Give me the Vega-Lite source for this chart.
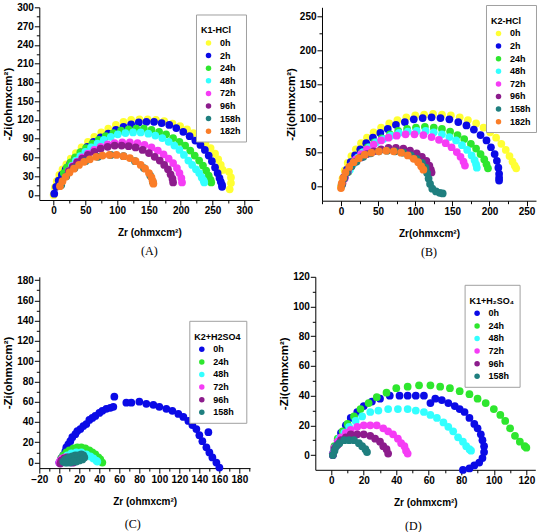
{
  "$schema": "https://vega.github.io/schema/vega-lite/v6.json",
  "padding": {"left": 2.3, "top": 2.3, "right": 0, "bottom": 0},
  "background": "white",
  "config": {
    "view": {"stroke": null},
    "axis": {
      "grid": false,
      "domainColor": "black",
      "tickColor": "black",
      "labelColor": "black",
      "titleColor": "black",
      "labelFont": "Liberation Sans Narrow, Liberation Sans, Arial, sans-serif",
      "labelFontWeight": "bold",
      "labelFontSize": 10,
      "labelPadding": 1,
      "labelOverlap": false,
      "labelFlush": false,
      "titleFont": "Liberation Sans Narrow, Liberation Sans, Arial, sans-serif",
      "titleFontWeight": "bold",
      "titleFontSize": 10
    },
    "axisX": {"titlePadding": 12},
    "axisY": {"titleFont": "Liberation Sans", "titleFontSize": 11.5, "titlePadding": 3},
    "legend": {
      "direction": "vertical",
      "labelFont": "Liberation Sans Narrow, Liberation Sans, Arial, sans-serif",
      "labelFontWeight": "bold",
      "labelFontSize": 9,
      "labelColor": "black",
      "titleFont": "Liberation Sans Narrow, Liberation Sans, Arial, sans-serif",
      "titleFontWeight": "bold",
      "titleFontSize": 9,
      "titleColor": "black",
      "titleLineHeight": 7,
      "titlePadding": 3,
      "symbolType": "circle",
      "symbolSize": 30,
      "symbolStrokeWidth": 0,
      "symbolOffset": 3,
      "labelOffset": 7,
      "rowPadding": 2.6,
      "padding": 5,
      "strokeColor": "#a0a0a0",
      "fillColor": "white"
    },
    "title": {"font": "Liberation Serif", "fontSize": 12, "fontWeight": "normal", "color": "black", "offset": 8}
  },
  "datasets": {
    "A": [
      {"s":"0h","x":0,"y":0},{"s":"0h","x":2,"y":12},{"s":"0h","x":5,"y":22},{"s":"0h","x":9,"y":32},{"s":"0h","x":14,"y":41},{"s":"0h","x":20,"y":49},{"s":"0h","x":27,"y":58},{"s":"0h","x":35,"y":67},{"s":"0h","x":44,"y":76},{"s":"0h","x":54,"y":85},{"s":"0h","x":64,"y":93},{"s":"0h","x":75,"y":100},{"s":"0h","x":86,"y":106},{"s":"0h","x":98,"y":112},{"s":"0h","x":110,"y":117},{"s":"0h","x":122,"y":120},{"s":"0h","x":135,"y":121},{"s":"0h","x":148,"y":121},{"s":"0h","x":161,"y":120},{"s":"0h","x":174,"y":118},{"s":"0h","x":187,"y":114},{"s":"0h","x":199,"y":110},{"s":"0h","x":210,"y":105},{"s":"0h","x":220,"y":99},{"s":"0h","x":230,"y":92},{"s":"0h","x":239,"y":84},{"s":"0h","x":247,"y":75},{"s":"0h","x":254,"y":66},{"s":"0h","x":259,"y":57},{"s":"0h","x":263,"y":48},{"s":"0h","x":266,"y":40},{"s":"0h","x":259,"y":34},{"s":"0h","x":276,"y":37},{"s":"0h","x":279,"y":28},{"s":"0h","x":279,"y":19},{"s":"0h","x":277,"y":9},
      {"s":" 2h","x":1,"y":2},{"s":" 2h","x":4,"y":13},{"s":" 2h","x":8,"y":23},{"s":" 2h","x":13,"y":32},{"s":" 2h","x":19,"y":41},{"s":" 2h","x":26,"y":50},{"s":" 2h","x":34,"y":59},{"s":" 2h","x":43,"y":68},{"s":" 2h","x":53,"y":77},{"s":" 2h","x":63,"y":85},{"s":" 2h","x":74,"y":92},{"s":" 2h","x":86,"y":98},{"s":" 2h","x":98,"y":104},{"s":" 2h","x":110,"y":109},{"s":" 2h","x":122,"y":113},{"s":" 2h","x":134,"y":116},{"s":" 2h","x":146,"y":117},{"s":" 2h","x":158,"y":117},{"s":" 2h","x":170,"y":115},{"s":" 2h","x":182,"y":112},{"s":" 2h","x":193,"y":107},{"s":" 2h","x":204,"y":101},{"s":" 2h","x":214,"y":94},{"s":" 2h","x":223,"y":87},{"s":" 2h","x":231,"y":80},{"s":" 2h","x":238,"y":72},{"s":" 2h","x":244,"y":63},{"s":" 2h","x":249,"y":54},{"s":" 2h","x":254,"y":44},{"s":" 2h","x":258,"y":35},{"s":" 2h","x":261,"y":27},{"s":" 2h","x":263,"y":21},{"s":" 2h","x":265,"y":16},{"s":" 2h","x":265,"y":13},
      {"s":"24h","x":16,"y":35},{"s":"24h","x":21,"y":44},{"s":"24h","x":27,"y":52},{"s":"24h","x":34,"y":60},{"s":"24h","x":42,"y":68},{"s":"24h","x":51,"y":75},{"s":"24h","x":61,"y":82},{"s":"24h","x":71,"y":88},{"s":"24h","x":82,"y":94},{"s":"24h","x":94,"y":99},{"s":"24h","x":106,"y":103},{"s":"24h","x":118,"y":105},{"s":"24h","x":130,"y":106},{"s":"24h","x":142,"y":106},{"s":"24h","x":154,"y":104},{"s":"24h","x":166,"y":101},{"s":"24h","x":177,"y":97},{"s":"24h","x":188,"y":91},{"s":"24h","x":198,"y":85},{"s":"24h","x":207,"y":79},{"s":"24h","x":215,"y":71},{"s":"24h","x":222,"y":63},{"s":"24h","x":229,"y":55},{"s":"24h","x":235,"y":47},{"s":"24h","x":240,"y":39},{"s":"24h","x":244,"y":31},{"s":"24h","x":247,"y":24},{"s":"24h","x":248,"y":20},
      {"s":"48h","x":24,"y":38},{"s":"48h","x":29,"y":47},{"s":"48h","x":35,"y":55},{"s":"48h","x":42,"y":62},{"s":"48h","x":50,"y":69},{"s":"48h","x":59,"y":76},{"s":"48h","x":69,"y":82},{"s":"48h","x":79,"y":88},{"s":"48h","x":90,"y":93},{"s":"48h","x":101,"y":97},{"s":"48h","x":113,"y":99},{"s":"48h","x":125,"y":100},{"s":"48h","x":137,"y":100},{"s":"48h","x":149,"y":98},{"s":"48h","x":160,"y":95},{"s":"48h","x":171,"y":91},{"s":"48h","x":181,"y":85},{"s":"48h","x":190,"y":79},{"s":"48h","x":198,"y":72},{"s":"48h","x":205,"y":64},{"s":"48h","x":212,"y":55},{"s":"48h","x":218,"y":48},{"s":"48h","x":224,"y":41},{"s":"48h","x":229,"y":35},{"s":"48h","x":233,"y":28},{"s":"48h","x":236,"y":23},{"s":"48h","x":237,"y":20},
      {"s":"72h","x":24,"y":38},{"s":"72h","x":30,"y":46},{"s":"72h","x":37,"y":53},{"s":"72h","x":45,"y":60},{"s":"72h","x":54,"y":66},{"s":"72h","x":64,"y":72},{"s":"72h","x":74,"y":77},{"s":"72h","x":85,"y":81},{"s":"72h","x":96,"y":83},{"s":"72h","x":108,"y":84},{"s":"72h","x":120,"y":84},{"s":"72h","x":132,"y":83},{"s":"72h","x":143,"y":80},{"s":"72h","x":154,"y":76},{"s":"72h","x":164,"y":71},{"s":"72h","x":173,"y":65},{"s":"72h","x":181,"y":58},{"s":"72h","x":188,"y":51},{"s":"72h","x":194,"y":43},{"s":"72h","x":198,"y":35},{"s":"72h","x":201,"y":27},{"s":"72h","x":202,"y":20},
      {"s":"96h","x":24,"y":38},{"s":"96h","x":30,"y":45},{"s":"96h","x":37,"y":52},{"s":"96h","x":45,"y":58},{"s":"96h","x":54,"y":64},{"s":"96h","x":64,"y":69},{"s":"96h","x":74,"y":74},{"s":"96h","x":85,"y":77},{"s":"96h","x":96,"y":79},{"s":"96h","x":107,"y":79},{"s":"96h","x":118,"y":78},{"s":"96h","x":129,"y":76},{"s":"96h","x":140,"y":72},{"s":"96h","x":150,"y":67},{"s":"96h","x":159,"y":61},{"s":"96h","x":167,"y":55},{"s":"96h","x":174,"y":48},{"s":"96h","x":180,"y":41},{"s":"96h","x":184,"y":33},{"s":"96h","x":187,"y":26},{"s":"96h","x":188,"y":20},
      {"s":"158h","x":12,"y":16},{"s":"158h","x":20,"y":30},{"s":"158h","x":33,"y":43},{"s":"158h","x":50,"y":54},{"s":"158h","x":70,"y":61},{"s":"158h","x":90,"y":64},{"s":"158h","x":110,"y":62},{"s":"158h","x":128,"y":54},{"s":"158h","x":142,"y":43},{"s":"158h","x":152,"y":31},{"s":"158h","x":156,"y":21},
      {"s":"182h","x":10,"y":14},{"s":"182h","x":14,"y":22},{"s":"182h","x":19,"y":29},{"s":"182h","x":25,"y":36},{"s":"182h","x":32,"y":42},{"s":"182h","x":40,"y":48},{"s":"182h","x":48,"y":53},{"s":"182h","x":57,"y":57},{"s":"182h","x":67,"y":61},{"s":"182h","x":77,"y":63},{"s":"182h","x":88,"y":64},{"s":"182h","x":99,"y":64},{"s":"182h","x":110,"y":62},{"s":"182h","x":120,"y":59},{"s":"182h","x":129,"y":54},{"s":"182h","x":137,"y":48},{"s":"182h","x":144,"y":42},{"s":"182h","x":150,"y":35},{"s":"182h","x":154,"y":28},{"s":"182h","x":156,"y":22},{"s":"182h","x":157,"y":18}
    ],
    "B": [
      {"s":"0h","x":0,"y":0},{"s":"0h","x":2,"y":12},{"s":"0h","x":5,"y":24},{"s":"0h","x":9,"y":35},{"s":"0h","x":14,"y":45},{"s":"0h","x":20,"y":55},{"s":"0h","x":27,"y":64},{"s":"0h","x":35,"y":72},{"s":"0h","x":44,"y":80},{"s":"0h","x":54,"y":87},{"s":"0h","x":65,"y":93},{"s":"0h","x":76,"y":98},{"s":"0h","x":88,"y":102},{"s":"0h","x":100,"y":105},{"s":"0h","x":112,"y":106},{"s":"0h","x":124,"y":107},{"s":"0h","x":136,"y":106},{"s":"0h","x":148,"y":105},{"s":"0h","x":160,"y":102},{"s":"0h","x":171,"y":98},{"s":"0h","x":182,"y":93},{"s":"0h","x":192,"y":87},{"s":"0h","x":201,"y":80},{"s":"0h","x":209,"y":72},{"s":"0h","x":216,"y":63},{"s":"0h","x":222,"y":54},{"s":"0h","x":227,"y":45},{"s":"0h","x":231,"y":37},{"s":"0h","x":234,"y":31},{"s":"0h","x":236,"y":27},
      {"s":"2h","x":1,"y":3},{"s":"2h","x":4,"y":14},{"s":"2h","x":8,"y":25},{"s":"2h","x":13,"y":36},{"s":"2h","x":19,"y":46},{"s":"2h","x":26,"y":55},{"s":"2h","x":34,"y":64},{"s":"2h","x":43,"y":72},{"s":"2h","x":53,"y":79},{"s":"2h","x":63,"y":85},{"s":"2h","x":74,"y":91},{"s":"2h","x":86,"y":95},{"s":"2h","x":98,"y":99},{"s":"2h","x":110,"y":101},{"s":"2h","x":122,"y":102},{"s":"2h","x":134,"y":101},{"s":"2h","x":146,"y":99},{"s":"2h","x":158,"y":95},{"s":"2h","x":169,"y":90},{"s":"2h","x":179,"y":84},{"s":"2h","x":188,"y":76},{"s":"2h","x":196,"y":68},{"s":"2h","x":202,"y":58},{"s":"2h","x":207,"y":48},{"s":"2h","x":210,"y":38},{"s":"2h","x":212,"y":28},{"s":"2h","x":213,"y":19},{"s":"2h","x":213,"y":13},{"s":"2h","x":213,"y":9},
      {"s":"24h","x":10,"y":22},{"s":"24h","x":15,"y":32},{"s":"24h","x":21,"y":41},{"s":"24h","x":28,"y":50},{"s":"24h","x":36,"y":58},{"s":"24h","x":45,"y":65},{"s":"24h","x":55,"y":71},{"s":"24h","x":66,"y":77},{"s":"24h","x":77,"y":82},{"s":"24h","x":89,"y":85},{"s":"24h","x":101,"y":87},{"s":"24h","x":113,"y":88},{"s":"24h","x":125,"y":87},{"s":"24h","x":136,"y":85},{"s":"24h","x":147,"y":81},{"s":"24h","x":157,"y":76},{"s":"24h","x":166,"y":70},{"s":"24h","x":175,"y":63},{"s":"24h","x":182,"y":56},{"s":"24h","x":188,"y":48},{"s":"24h","x":193,"y":40},{"s":"24h","x":196,"y":33},{"s":"24h","x":198,"y":27},
      {"s":"48h","x":12,"y":25},{"s":"48h","x":17,"y":34},{"s":"48h","x":23,"y":43},{"s":"48h","x":30,"y":51},{"s":"48h","x":38,"y":58},{"s":"48h","x":47,"y":65},{"s":"48h","x":57,"y":70},{"s":"48h","x":67,"y":75},{"s":"48h","x":78,"y":79},{"s":"48h","x":90,"y":81},{"s":"48h","x":102,"y":82},{"s":"48h","x":114,"y":82},{"s":"48h","x":125,"y":80},{"s":"48h","x":136,"y":77},{"s":"48h","x":146,"y":73},{"s":"48h","x":155,"y":68},{"s":"48h","x":163,"y":61},{"s":"48h","x":170,"y":54},{"s":"48h","x":176,"y":46},{"s":"48h","x":180,"y":39},{"s":"48h","x":182,"y":33},{"s":"48h","x":183,"y":28},
      {"s":"72h","x":5,"y":12},{"s":"72h","x":9,"y":22},{"s":"72h","x":14,"y":31},{"s":"72h","x":20,"y":40},{"s":"72h","x":27,"y":48},{"s":"72h","x":35,"y":55},{"s":"72h","x":44,"y":62},{"s":"72h","x":54,"y":68},{"s":"72h","x":64,"y":72},{"s":"72h","x":75,"y":75},{"s":"72h","x":87,"y":77},{"s":"72h","x":99,"y":77},{"s":"72h","x":111,"y":76},{"s":"72h","x":122,"y":73},{"s":"72h","x":132,"y":69},{"s":"72h","x":141,"y":64},{"s":"72h","x":149,"y":58},{"s":"72h","x":156,"y":51},{"s":"72h","x":161,"y":44},{"s":"72h","x":165,"y":37},{"s":"72h","x":167,"y":31},
      {"s":"96h","x":2,"y":5},{"s":"96h","x":5,"y":14},{"s":"96h","x":9,"y":22},{"s":"96h","x":14,"y":30},{"s":"96h","x":20,"y":37},{"s":"96h","x":27,"y":43},{"s":"96h","x":35,"y":48},{"s":"96h","x":44,"y":52},{"s":"96h","x":54,"y":55},{"s":"96h","x":64,"y":57},{"s":"96h","x":74,"y":57},{"s":"96h","x":84,"y":56},{"s":"96h","x":93,"y":53},{"s":"96h","x":102,"y":49},{"s":"96h","x":109,"y":44},{"s":"96h","x":115,"y":38},{"s":"96h","x":119,"y":31},{"s":"96h","x":121,"y":25},{"s":"96h","x":122,"y":21},
      {"s":"158h","x":1,"y":2},{"s":"158h","x":4,"y":12},{"s":"158h","x":8,"y":21},{"s":"158h","x":14,"y":30},{"s":"158h","x":21,"y":37},{"s":"158h","x":30,"y":44},{"s":"158h","x":40,"y":49},{"s":"158h","x":51,"y":52},{"s":"158h","x":62,"y":53},{"s":"158h","x":73,"y":52},{"s":"158h","x":84,"y":50},{"s":"158h","x":94,"y":46},{"s":"158h","x":102,"y":41},{"s":"158h","x":109,"y":35},{"s":"158h","x":114,"y":28},{"s":"158h","x":116,"y":20},{"s":"158h","x":118,"y":12},{"s":"158h","x":120,"y":4},{"s":"158h","x":123,"y":-3},{"s":"158h","x":128,"y":-7},{"s":"158h","x":133,"y":-9},{"s":"158h","x":137,"y":-10},
      {"s":"182h","x":0,"y":-2},{"s":"182h","x":1,"y":5},{"s":"182h","x":3,"y":13},{"s":"182h","x":6,"y":21},{"s":"182h","x":11,"y":29},{"s":"182h","x":17,"y":36},{"s":"182h","x":24,"y":42},{"s":"182h","x":32,"y":47},{"s":"182h","x":41,"y":50},{"s":"182h","x":51,"y":52},{"s":"182h","x":61,"y":53},{"s":"182h","x":71,"y":52},{"s":"182h","x":81,"y":50},{"s":"182h","x":90,"y":46},{"s":"182h","x":98,"y":41},{"s":"182h","x":104,"y":36},{"s":"182h","x":108,"y":30},{"s":"182h","x":111,"y":25}
    ],
    "C": [
      {"s":"0h","x":0,"y":0},{"s":"0h","x":2,"y":4},{"s":"0h","x":4,"y":7},{"s":"0h","x":6,"y":11},{"s":"0h","x":7,"y":15},{"s":"0h","x":9,"y":18},{"s":"0h","x":11,"y":21},{"s":"0h","x":13,"y":25},{"s":"0h","x":16,"y":28},{"s":"0h","x":18,"y":31},{"s":"0h","x":21,"y":33},{"s":"0h","x":24,"y":36},{"s":"0h","x":27,"y":38},{"s":"0h","x":30,"y":42},{"s":"0h","x":33,"y":44},{"s":"0h","x":36,"y":46},{"s":"0h","x":40,"y":49},{"s":"0h","x":43,"y":51},{"s":"0h","x":47,"y":53},{"s":"0h","x":51,"y":54},{"s":"0h","x":54,"y":55},{"s":"0h","x":55,"y":65},{"s":"0h","x":67,"y":59},{"s":"0h","x":72,"y":59},{"s":"0h","x":80,"y":60},{"s":"0h","x":87,"y":58},{"s":"0h","x":94,"y":57},{"s":"0h","x":100,"y":55},{"s":"0h","x":107,"y":53},{"s":"0h","x":113,"y":51},{"s":"0h","x":119,"y":48},{"s":"0h","x":124,"y":45},{"s":"0h","x":129,"y":41},{"s":"0h","x":133,"y":37},{"s":"0h","x":137,"y":33},{"s":"0h","x":140,"y":27},{"s":"0h","x":149,"y":30},{"s":"0h","x":143,"y":21},{"s":"0h","x":147,"y":15},{"s":"0h","x":150,"y":10},{"s":"0h","x":153,"y":5},{"s":"0h","x":157,"y":0},{"s":"0h","x":160,"y":-5},
      {"s":"24h","x":1,"y":1},{"s":"24h","x":2,"y":4},{"s":"24h","x":4,"y":7},{"s":"24h","x":7,"y":10},{"s":"24h","x":10,"y":12},{"s":"24h","x":14,"y":14},{"s":"24h","x":18,"y":15},{"s":"24h","x":22,"y":15},{"s":"24h","x":26,"y":14},{"s":"24h","x":30,"y":12},{"s":"24h","x":33,"y":10},{"s":"24h","x":36,"y":8},{"s":"24h","x":39,"y":5},{"s":"24h","x":41,"y":3},{"s":"24h","x":43,"y":0},
      {"s":"48h","x":2,"y":1},{"s":"48h","x":4,"y":4},{"s":"48h","x":8,"y":7},{"s":"48h","x":12,"y":9},{"s":"48h","x":17,"y":10},{"s":"48h","x":22,"y":10},{"s":"48h","x":27,"y":8},{"s":"48h","x":31,"y":6},{"s":"48h","x":34,"y":4},{"s":"48h","x":37,"y":2},{"s":"48h","x":38,"y":1},
      {"s":"72h","x":0,"y":0},{"s":"72h","x":1,"y":2},{"s":"72h","x":3,"y":4},{"s":"72h","x":6,"y":5},{"s":"72h","x":9,"y":4},{"s":"72h","x":11,"y":2},{"s":"72h","x":12,"y":0},
      {"s":"96h","x":1,"y":-1},{"s":"96h","x":2,"y":2},{"s":"96h","x":5,"y":4},{"s":"96h","x":8,"y":5},{"s":"96h","x":11,"y":4},{"s":"96h","x":13,"y":2},{"s":"96h","x":14,"y":0},
      {"s":"158h","x":4,"y":1},{"s":"158h","x":6,"y":3},{"s":"158h","x":8,"y":4},{"s":"158h","x":10,"y":5},{"s":"158h","x":13,"y":6},{"s":"158h","x":16,"y":7},{"s":"158h","x":19,"y":7},{"s":"158h","x":22,"y":8},{"s":"158h","x":24,"y":7},{"s":"158h","x":25,"y":5},{"s":"158h","x":23,"y":3},{"s":"158h","x":20,"y":2},{"s":"158h","x":17,"y":1},{"s":"158h","x":14,"y":1},{"s":"158h","x":11,"y":0},{"s":"158h","x":8,"y":0},{"s":"158h","x":6,"y":0}
    ],
    "D": [
      {"s":"0h","x":1,"y":0},{"s":"0h","x":2,"y":5},{"s":"0h","x":4,"y":10},{"s":"0h","x":6,"y":15},{"s":"0h","x":9,"y":20},{"s":"0h","x":12,"y":25},{"s":"0h","x":16,"y":29},{"s":"0h","x":20,"y":33},{"s":"0h","x":25,"y":36},{"s":"0h","x":30,"y":38},{"s":"0h","x":36,"y":40},{"s":"0h","x":42,"y":40},{"s":"0h","x":47,"y":40},{"s":"0h","x":52,"y":40},{"s":"0h","x":57,"y":40},{"s":"0h","x":61,"y":35},{"s":"0h","x":64,"y":38},{"s":"0h","x":68,"y":37},{"s":"0h","x":72,"y":35},{"s":"0h","x":76,"y":33},{"s":"0h","x":79,"y":31},{"s":"0h","x":82,"y":29},{"s":"0h","x":85,"y":25},{"s":"0h","x":88,"y":21},{"s":"0h","x":90,"y":18},{"s":"0h","x":92,"y":14},{"s":"0h","x":93,"y":10},{"s":"0h","x":94,"y":6},{"s":"0h","x":94,"y":2},{"s":"0h","x":93,"y":-2},{"s":"0h","x":91,"y":-5},{"s":"0h","x":88,"y":-7},{"s":"0h","x":85,"y":-9},{"s":"0h","x":81,"y":-10},
      {"s":"24h","x":1,"y":1},{"s":"24h","x":2,"y":6},{"s":"24h","x":4,"y":11},{"s":"24h","x":7,"y":16},{"s":"24h","x":10,"y":21},{"s":"24h","x":14,"y":26},{"s":"24h","x":18,"y":31},{"s":"24h","x":23,"y":35},{"s":"24h","x":28,"y":39},{"s":"24h","x":34,"y":42},{"s":"24h","x":40,"y":45},{"s":"24h","x":47,"y":46},{"s":"24h","x":54,"y":47},{"s":"24h","x":61,"y":47},{"s":"24h","x":67,"y":46},{"s":"24h","x":73,"y":45},{"s":"24h","x":79,"y":43},{"s":"24h","x":85,"y":41},{"s":"24h","x":90,"y":38},{"s":"24h","x":95,"y":35},{"s":"24h","x":100,"y":31},{"s":"24h","x":104,"y":27},{"s":"24h","x":107,"y":23},{"s":"24h","x":110,"y":18},{"s":"24h","x":113,"y":13},{"s":"24h","x":116,"y":9},{"s":"24h","x":119,"y":6},{"s":"24h","x":120,"y":5},
      {"s":"48h","x":1,"y":1},{"s":"48h","x":3,"y":6},{"s":"48h","x":5,"y":11},{"s":"48h","x":8,"y":15},{"s":"48h","x":11,"y":19},{"s":"48h","x":15,"y":23},{"s":"48h","x":19,"y":26},{"s":"48h","x":24,"y":29},{"s":"48h","x":29,"y":30},{"s":"48h","x":35,"y":31},{"s":"48h","x":41,"y":31},{"s":"48h","x":47,"y":31},{"s":"48h","x":52,"y":30},{"s":"48h","x":57,"y":29},{"s":"48h","x":61,"y":27},{"s":"48h","x":65,"y":25},{"s":"48h","x":69,"y":22},{"s":"48h","x":72,"y":19},{"s":"48h","x":75,"y":16},{"s":"48h","x":78,"y":12},{"s":"48h","x":81,"y":9},{"s":"48h","x":83,"y":6},{"s":"48h","x":85,"y":4},{"s":"48h","x":86,"y":3},
      {"s":"72h","x":1,"y":1},{"s":"72h","x":2,"y":5},{"s":"72h","x":4,"y":9},{"s":"72h","x":6,"y":12},{"s":"72h","x":9,"y":15},{"s":"72h","x":12,"y":17},{"s":"72h","x":16,"y":19},{"s":"72h","x":20,"y":20},{"s":"72h","x":24,"y":20},{"s":"72h","x":28,"y":20},{"s":"72h","x":32,"y":18},{"s":"72h","x":35,"y":16},{"s":"72h","x":38,"y":14},{"s":"72h","x":41,"y":11},{"s":"72h","x":43,"y":8},{"s":"72h","x":45,"y":6},{"s":"72h","x":46,"y":3},{"s":"72h","x":47,"y":1},
      {"s":"96h","x":1,"y":0},{"s":"96h","x":2,"y":4},{"s":"96h","x":4,"y":7},{"s":"96h","x":6,"y":10},{"s":"96h","x":9,"y":12},{"s":"96h","x":12,"y":14},{"s":"96h","x":16,"y":14},{"s":"96h","x":20,"y":14},{"s":"96h","x":24,"y":13},{"s":"96h","x":27,"y":11},{"s":"96h","x":30,"y":9},{"s":"96h","x":32,"y":6},{"s":"96h","x":34,"y":4},{"s":"96h","x":35,"y":1},
      {"s":"158h","x":1,"y":0},{"s":"158h","x":2,"y":3},{"s":"158h","x":3,"y":6},{"s":"158h","x":5,"y":8},{"s":"158h","x":8,"y":10},{"s":"158h","x":11,"y":10},{"s":"158h","x":14,"y":10},{"s":"158h","x":17,"y":8},{"s":"158h","x":19,"y":6},{"s":"158h","x":21,"y":4},{"s":"158h","x":22,"y":2}
    ]
  },
  "spacing": 13.5,
  "resolve": {"scale": {"color": "independent", "x": "independent", "y": "independent"}, "legend": {"color": "independent"}},
  "vconcat": [
    {
      "spacing": 62.7,
      "bounds": "flush",
      "resolve": {"scale": {"color": "independent", "x": "independent", "y": "independent"}, "legend": {"color": "independent"}},
      "hconcat": [
        {
          "width": 220,
          "height": 192.7,
          "data": {"name": "A"},
          "mark": {"type": "point", "filled": true, "size": 60, "opacity": 1},
          "encoding": {
            "x": {"field": "x", "type": "quantitative", "scale": {"domain": [-22.5, 323.6], "nice": false, "zero": false},
              "axis": {"title": "Zr (ohmxcm²)", "values": [0,25,50,75,100,125,150,175,200,225,250,275,300],
                "labelExpr": "datum.value % 50 === 0 ? datum.label : ''",
                "tickSize": {"condition": {"test": "datum.value % 50 === 0", "value": 5}, "value": 3}}},
            "y": {"field": "y", "type": "quantitative", "scale": {"domain": [-8, 300], "nice": false, "zero": false},
              "axis": {"title": "-Zi(ohmxcm²)", "values": [0,15,30,45,60,75,90,105,120,135,150,165,180,195,210,225,240,255,270,285,300],
                "labelExpr": "datum.value % 30 === 0 ? datum.label : ''",
                "tickSize": {"condition": {"test": "datum.value % 30 === 0", "value": 5}, "value": 3}}},
            "color": {"field": "s", "type": "nominal",
              "scale": {"domain": ["0h"," 2h","24h","48h","72h","96h","158h","182h"], "range": ["#FFFF33","#0A0AE6","#2EE62E","#33FFFF","#F53CF5","#8C1C8C","#1F7F7F","#FA7D28"]},
              "legend": {"title": ["", "K1-HCl"], "orient": "none", "legendX": 156.7, "legendY": 7.2}}
          },
          "title": {"text": "(A)", "orient": "bottom"}
        },
        {
          "width": 214,
          "height": 193.4,
          "data": {"name": "B"},
          "mark": {"type": "point", "filled": true, "size": 60, "opacity": 1},
          "encoding": {
            "x": {"field": "x", "type": "quantitative", "scale": {"domain": [-25.6, 262.7], "nice": false, "zero": false},
              "axis": {"title": "Zr(ohmxcm²)", "values": [-25,0,25,50,75,100,125,150,175,200,225,250],
                "labelExpr": "datum.value % 50 === 0 ? datum.label : ''",
                "tickSize": {"condition": {"test": "datum.value % 50 === 0", "value": 5}, "value": 3}}},
            "y": {"field": "y", "type": "quantitative", "scale": {"domain": [-20.6, 263.8], "nice": false, "zero": false},
              "axis": {"title": "-Zi(ohmxcm²)", "values": [0,25,50,75,100,125,150,175,200,225,250],
                "labelExpr": "datum.value % 50 === 0 ? datum.label : ''",
                "tickSize": {"condition": {"test": "datum.value % 50 === 0", "value": 5}, "value": 3}}},
            "color": {"field": "s", "type": "nominal",
              "scale": {"domain": ["0h","2h","24h","48h","72h","96h","158h","182h"], "range": ["#FFFF33","#0A0AE6","#2EE62E","#33FFFF","#F53CF5","#8C1C8C","#1F7F7F","#FA7D28"]},
              "legend": {"title": ["", "K2-HCl"], "orient": "none", "legendX": 164, "legendY": -2.3}}
          },
          "title": {"text": "(B)", "orient": "bottom"}
        }
      ]
    },
    {
      "spacing": 65,
      "bounds": "flush",
      "resolve": {"scale": {"color": "independent", "x": "independent", "y": "independent"}, "legend": {"color": "independent"}},
      "hconcat": [
        {
          "width": 210.7,
          "height": 191.3,
          "data": {"name": "C"},
          "mark": {"type": "point", "filled": true, "size": 60, "opacity": 1},
          "encoding": {
            "x": {"field": "x", "type": "quantitative", "scale": {"domain": [-20, 190.6], "nice": false, "zero": false},
              "axis": {"title": "Zr (ohmxcm²)", "values": [-20,-10,0,10,20,30,40,50,60,70,80,90,100,110,120,130,140,150,160,170,180,190],
                "labelExpr": "datum.value % 20 === 0 ? datum.label : ''",
                "tickSize": {"condition": {"test": "datum.value % 20 === 0", "value": 5}, "value": 3}}},
            "y": {"field": "y", "type": "quantitative", "scale": {"domain": [-5.5, 183.3], "nice": false, "zero": false},
              "axis": {"title": "-Zi(ohmxcm²)", "values": [0,10,20,30,40,50,60,70,80,90,100,110,120,130,140,150,160,170,180],
                "labelExpr": "datum.value % 20 === 0 ? datum.label : ''",
                "tickSize": {"condition": {"test": "datum.value % 20 === 0", "value": 5}, "value": 3}}},
            "color": {"field": "s", "type": "nominal",
              "scale": {"domain": ["0h","24h","48h","72h","96h","158h"], "range": ["#0A0AE6","#2EE62E","#33FFFF","#F53CF5","#8C1C8C","#1F7F7F"]},
              "legend": {"title": ["", "K2+H2SO4"], "orient": "none", "legendX": 150, "legendY": 44}}
          },
          "title": {"text": "(C)", "orient": "bottom", "dx": -12, "offset": 13}
        },
        {
          "width": 220,
          "height": 193,
          "data": {"name": "D"},
          "mark": {"type": "point", "filled": true, "size": 60, "opacity": 1},
          "encoding": {
            "x": {"field": "x", "type": "quantitative", "scale": {"domain": [-9.8, 125.5], "nice": false, "zero": false},
              "axis": {"title": "Zr (ohmxcm²)", "values": [-10,0,10,20,30,40,50,60,70,80,90,100,110,120],
                "labelExpr": "datum.value % 20 === 0 ? datum.label : ''",
                "tickSize": {"condition": {"test": "datum.value % 20 === 0", "value": 5}, "value": 3}}},
            "y": {"field": "y", "type": "quantitative", "scale": {"domain": [-9.9, 120], "nice": false, "zero": false},
              "axis": {"title": "-Zi(ohmxcm²)", "values": [-10,0,10,20,30,40,50,60,70,80,90,100,110,120],
                "labelExpr": "datum.value % 20 === 0 ? datum.label : ''",
                "tickSize": {"condition": {"test": "datum.value % 20 === 0", "value": 5}, "value": 3}}},
            "color": {"field": "s", "type": "nominal",
              "scale": {"domain": ["0h","24h","48h","72h","96h","158h"], "range": ["#0A0AE6","#2EE62E","#33FFFF","#F53CF5","#8C1C8C","#1F7F7F"]},
              "legend": {"title": ["", "K1+H₂SO₄"], "orient": "none", "legendX": 149.3, "legendY": 8}}
          },
          "title": {"text": "(D)", "orient": "bottom", "dx": -12, "offset": 13}
        }
      ]
    }
  ]
}
